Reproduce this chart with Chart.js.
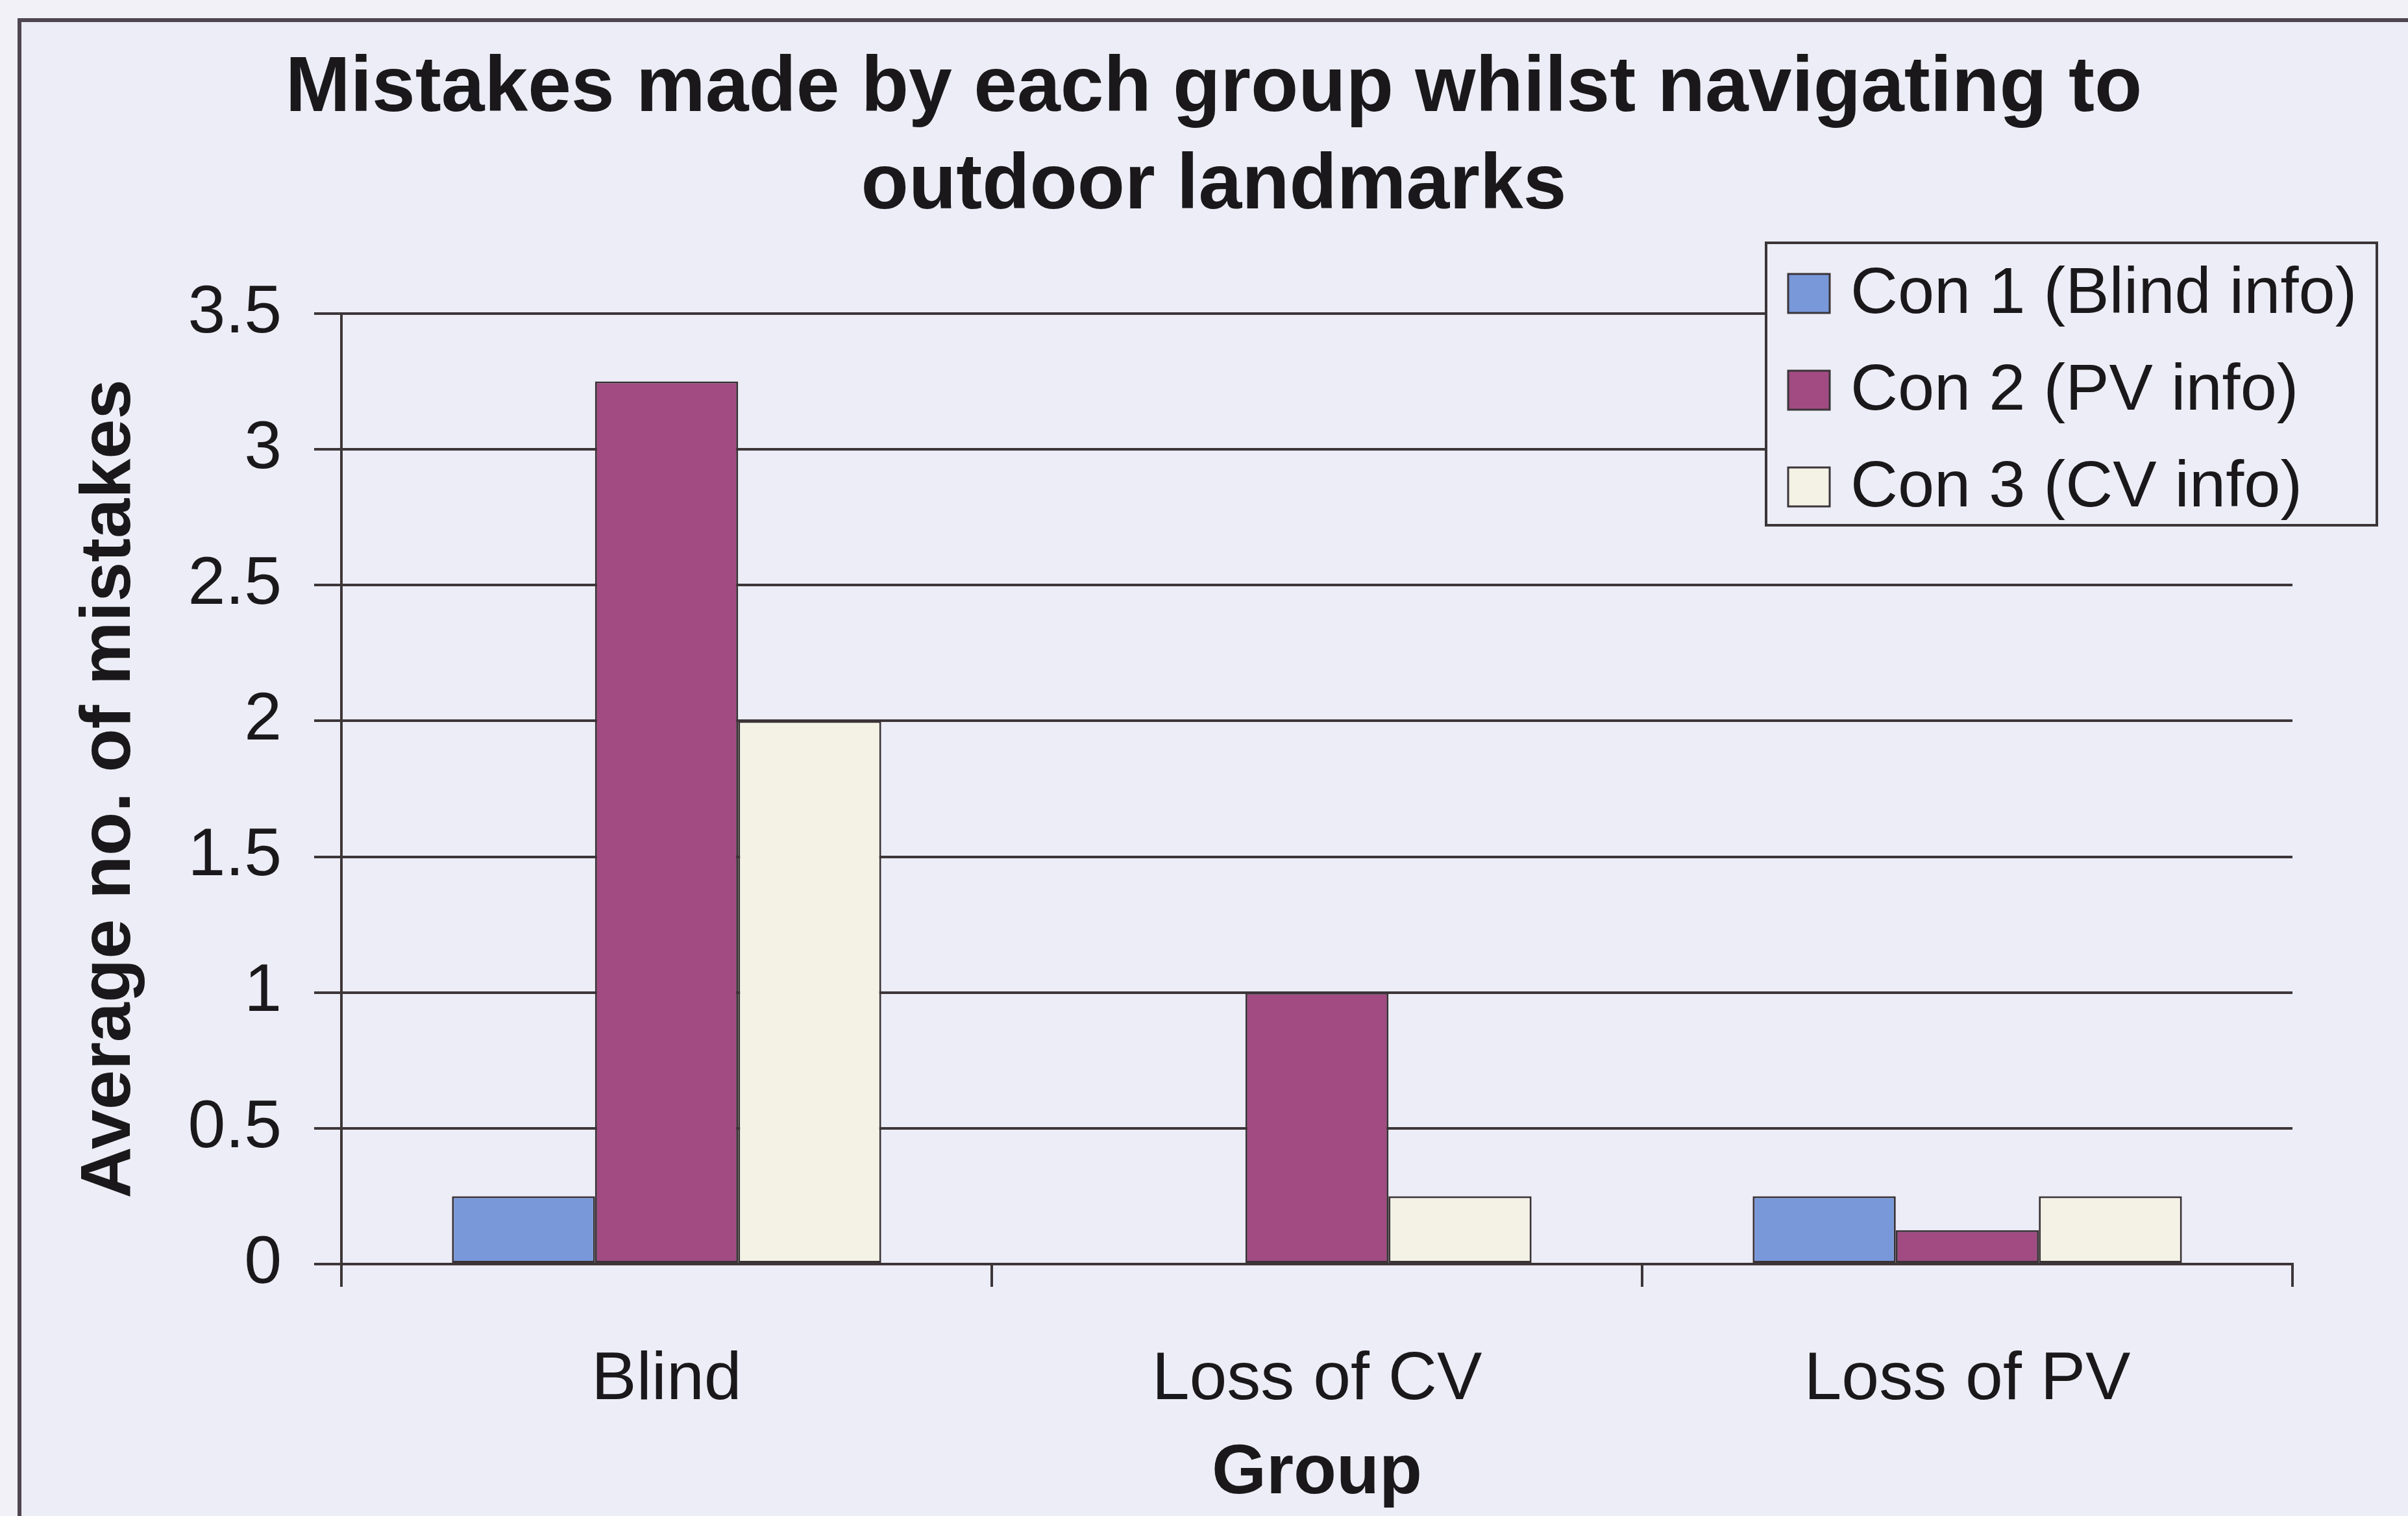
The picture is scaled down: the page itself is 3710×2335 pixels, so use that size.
<!DOCTYPE html>
<html>
<head>
<meta charset="utf-8">
<title>Mistakes by group</title>
<script src="https://cdn.jsdelivr.net/npm/chart.js@4.4.1/dist/chart.umd.min.js"></script>
<style>
  body { margin: 0; background: #f1f1f7; }
  canvas { display: block; }
</style>
</head>
<body>
<canvas id="chart1" width="3710" height="2335"></canvas>
<script>
var groups = ["Blind", "Loss of CV", "Loss of PV"];
var seriesNames = ["Con 1 (Blind info)", "Con 2 (PV info)", "Con 3 (CV info)"];
var con1 = [0.25, 0, 0.25];
var con2 = [3.25, 1, 0.125];
var con3 = [2, 0.25, 0.25];
var yTicks = [0, 0.5, 1, 1.5, 2, 2.5, 3, 3.5];
var yTickLabels = ["0", "0.5", "1", "1.5", "2", "2.5", "3", "3.5"];

var fillColors = ["#7898da", "#a14b82", "#f3f2e5"];
var lineColor = "#3d3639";
var textColor = "#1a181a";
var FONT = "'Liberation Sans', Arial, sans-serif";

// page background, chart frame
var framePlugin = {
  id: 'frame',
  afterLayout: function (chart) {
    // title sits centred on the frame, not on the padded layout
    if (chart.titleBlock) {
      chart.titleBlock.left += 84;
      chart.titleBlock.right += 84;
    }
  },
  beforeDraw: function (chart) {
    var ctx = chart.ctx;
    ctx.save();
    ctx.fillStyle = "#f1f1f7";
    ctx.fillRect(0, 0, chart.width, chart.height);
    ctx.fillStyle = "#ecedf6";
    ctx.fillRect(30, 31, chart.width, chart.height);
    ctx.strokeStyle = "#4f4651";
    ctx.lineWidth = 6;
    ctx.strokeRect(30, 31, chart.width + 20, chart.height + 20);
    ctx.restore();
  }
};

// boxed legend sitting over the top right of the plot
var boxLegend = {
  id: 'boxLegend',
  afterDraw: function (chart) {
    var ctx = chart.ctx;
    var x = 2721, y = 374, w = 941, h = 435;
    ctx.save();
    ctx.fillStyle = "#ecedf6";
    ctx.fillRect(x, y, w, h);
    ctx.strokeStyle = "#3b3538";
    ctx.lineWidth = 4;
    ctx.strokeRect(x, y, w, h);
    ctx.font = "101px " + FONT;
    ctx.textBaseline = "middle";
    ctx.textAlign = "left";
    chart.data.datasets.forEach(function (ds, i) {
      var cy = y + 78 + i * 149;
      ctx.fillStyle = ds.backgroundColor;
      ctx.fillRect(x + 34, cy - 30, 64, 60);
      ctx.lineWidth = 3;
      ctx.strokeRect(x + 34, cy - 30, 64, 60);
      ctx.fillStyle = textColor;
      ctx.fillText(ds.label, x + 130, cy + 2);
    });
    ctx.restore();
  }
};

var ctx = document.getElementById('chart1');
var myChart = new Chart(ctx, {
  type: 'bar',
  data: {
    labels: groups,
    datasets: [
      { label: seriesNames[0], data: con1, backgroundColor: fillColors[0] },
      { label: seriesNames[1], data: con2, backgroundColor: fillColors[1] },
      { label: seriesNames[2], data: con3, backgroundColor: fillColors[2] }
    ]
  },
  options: {
    responsive: false,
    animation: false,
    layout: { padding: { left: 40, right: 178, top: 0, bottom: 0 } },
    datasets: {
      bar: {
        categoryPercentage: 0.66,
        barPercentage: 1,
        borderWidth: 3,
        borderColor: "#3a3236",
        borderSkipped: false
      }
    },
    plugins: {
      legend: { display: false },
      tooltip: { enabled: false },
      title: {
        display: true,
        text: ["Mistakes made by each group whilst navigating to", "outdoor landmarks"],
        color: textColor,
        font: { family: FONT, size: 120, weight: 'bold', lineHeight: 1.25 },
        padding: { top: 63, bottom: 120 }
      }
    },
    scales: {
      x: {
        offset: true,
        grid: {
          offset: true,
          drawOnChartArea: false,
          drawTicks: true,
          tickLength: 35,
          color: lineColor,
          lineWidth: 4
        },
        border: { display: true, color: lineColor, width: 4 },
        ticks: {
          color: textColor,
          padding: 82,
          font: { family: FONT, size: 104 }
        },
        title: {
          display: true,
          text: "Group",
          color: textColor,
          font: { family: FONT, size: 108, weight: 'bold' },
          padding: { top: 0, bottom: 0 }
        },
        afterFit: function (scale) { scale.height = 388; }
      },
      y: {
        min: 0,
        max: 3.5,
        afterBuildTicks: function (scale) {
          scale.ticks = yTicks.map(function (v) { return { value: v }; });
        },
        grid: {
          drawTicks: true,
          tickLength: 42,
          color: lineColor,
          lineWidth: 4
        },
        border: { display: true, color: lineColor, width: 4 },
        ticks: {
          color: textColor,
          padding: 50,
          font: { family: FONT, size: 104 },
          callback: function (value) { return yTickLabels[yTicks.indexOf(value)]; }
        },
        title: {
          display: true,
          text: "Average no. of mistakes",
          color: textColor,
          font: { family: FONT, size: 110, weight: 'bold' },
          padding: { top: 64, bottom: 0 }
        },
        afterFit: function (scale) { scale.width = 486; }
      }
    }
  },
  plugins: [framePlugin, boxLegend]
});
</script>
</body>
</html>
